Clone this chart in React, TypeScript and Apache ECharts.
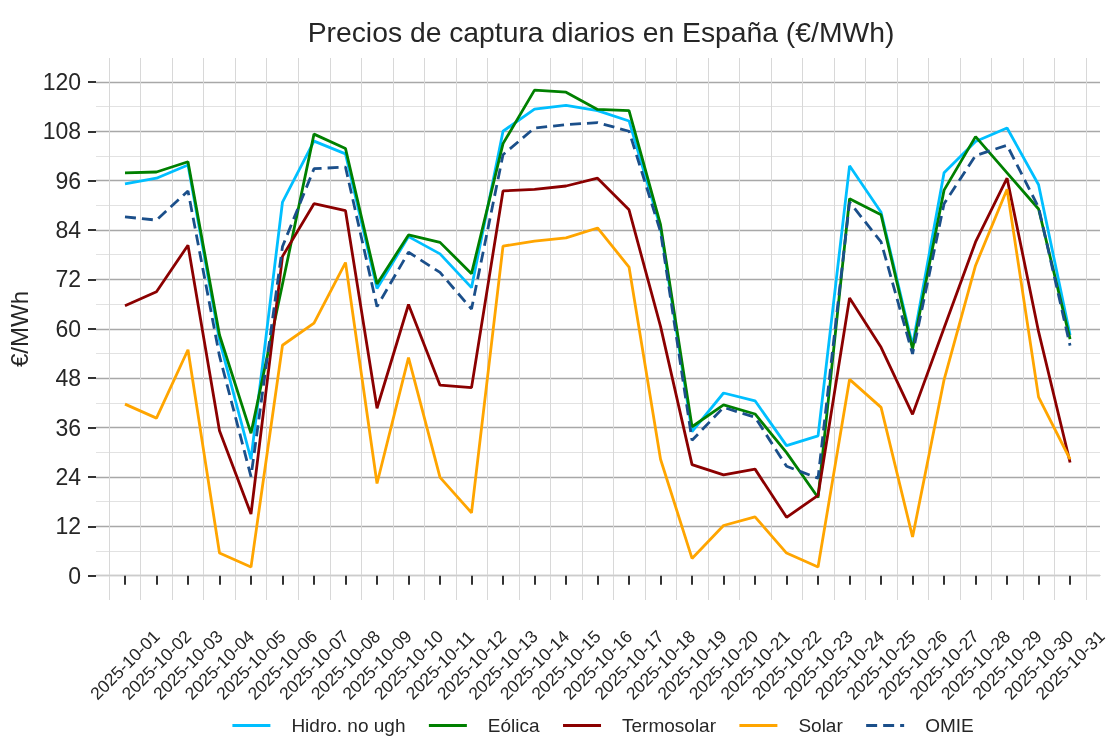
import React, { useEffect, useRef } from "react";
import * as echarts from "echarts";

const dates = [
  "2025-10-01", "2025-10-02", "2025-10-03", "2025-10-04", "2025-10-05", "2025-10-06",
  "2025-10-07", "2025-10-08", "2025-10-09", "2025-10-10", "2025-10-11", "2025-10-12",
  "2025-10-13", "2025-10-14", "2025-10-15", "2025-10-16", "2025-10-17", "2025-10-18",
  "2025-10-19", "2025-10-20", "2025-10-21", "2025-10-22", "2025-10-23", "2025-10-24",
  "2025-10-25", "2025-10-26", "2025-10-27", "2025-10-28", "2025-10-29", "2025-10-30",
  "2025-10-31",
];

const hidro = [95.2, 96.6, 99.8, 57.2, 28.3, 90.8, 105.6, 102.5, 69.8, 82.4, 78.2, 70.0, 108.0, 113.4, 114.3, 113.0, 110.5, 84.5, 35.0, 44.4, 42.5, 31.6, 34.0, 99.6, 88.3, 56.0, 97.9, 105.5, 108.8, 95.0, 58.5];
const eolica = [97.9, 98.1, 100.6, 58.5, 34.6, 70.9, 107.3, 103.8, 70.9, 82.8, 81.0, 73.4, 105.0, 118.0, 117.5, 113.3, 113.0, 85.3, 36.2, 41.5, 39.3, 29.9, 19.0, 91.6, 87.7, 55.1, 93.7, 106.7, 97.9, 89.1, 57.5];
const termosolar = [65.6, 69.0, 80.3, 35.2, 15.0, 77.6, 90.4, 88.7, 40.7, 65.9, 46.3, 45.7, 93.5, 93.9, 94.7, 96.6, 88.9, 60.6, 27.0, 24.5, 25.9, 14.2, 19.5, 67.5, 55.5, 39.2, 60.2, 81.1, 96.6, 59.3, 27.5];
const solar = [41.7, 38.3, 54.9, 5.5, 2.1, 56.0, 61.4, 76.1, 22.4, 53.0, 23.9, 15.3, 80.1, 81.3, 82.1, 84.5, 75.0, 28.3, 4.2, 12.2, 14.3, 5.5, 2.1, 47.7, 40.9, 9.4, 47.6, 75.4, 93.9, 43.4, 28.3];
const omie = [87.2, 86.4, 93.5, 53.4, 24.1, 80.0, 98.9, 99.3, 65.4, 78.6, 73.7, 64.8, 102.3, 108.8, 109.6, 110.1, 108.0, 83.6, 32.9, 40.9, 38.5, 26.6, 23.7, 90.8, 81.1, 53.9, 90.4, 102.1, 104.6, 89.5, 55.9];

const yTicks = [0, 12, 24, 36, 48, 60, 72, 84, 96, 108, 120];
const yMinorTicks = [6, 18, 30, 42, 54, 66, 78, 90, 102, 114];

const seriesNames = ["Hidro. no ugh", "Eólica", "Termosolar", "Solar", "OMIE"];
const seriesValues = [hidro, eolica, termosolar, solar, omie];
const seriesColors = ["#00bfff", "#008000", "#8b0000", "#ffa500", "#1b4f8a"];

const FONT = "'Liberation Sans', Arial, sans-serif";
const TEXT = "#262626";

export default function App() {
  const ref = useRef<HTMLDivElement>(null);
  useEffect(() => {
    document.body.style.margin = "0";
    const chart = echarts.init(ref.current!, null, { renderer: "svg" });
    const dayIdx = dates.map((_, i) => i + 1);
    const mids = [0.5, ...dates.map((_, i) => i + 1.5)];
    const xMin = 0.08;
    const xMax = 31.95;
    const yMin = -5.9;
    const yMax = 125.8;

    const option: any = {
      animation: false,
      textStyle: { fontFamily: FONT },
      title: {
        text: "Precios de captura diarios en España (€/MWh)",
        left: 596,
        textAlign: "center",
        top: 13,
        textStyle: { fontSize: 28.3, fontWeight: "normal", color: TEXT, fontFamily: FONT },
      },
      grid: { left: 96, right: 15, top: 58, bottom: 152, outerBoundsMode: "none" },
      legend: {
        left: 226,
        top: 711,
        itemWidth: 38,
        itemHeight: 14,
        itemGap: 22,
        data: seriesNames,
        itemStyle: { opacity: 0 },
        lineStyle: { width: 2.8 },
        formatter: (name: string) => `{t|${name}}`,
        textStyle: {
          fontSize: 19,
          color: TEXT,
          fontFamily: FONT,
          rich: { t: { padding: [0, 0, 0, 16], fontSize: 19, color: TEXT, fontFamily: FONT } },
        },
      },
      xAxis: [
        {
          type: "value",
          min: xMin,
          max: xMax,
          position: "bottom",
          axisLine: { show: true, lineStyle: { color: "#cccccc", width: 1 } },
          axisTick: { show: true, customValues: dayIdx, length: 9, lineStyle: { color: "#333333", width: 2 } },
          axisLabel: {
            customValues: dayIdx,
            formatter: (v: number) => dates[Math.round(v) - 1] ?? "",
            rotate: 45,
            align: "center",
            verticalAlign: "middle",
            margin: 65,
            fontSize: 17.5,
            color: TEXT,
            fontFamily: FONT,
          },
          splitLine: { show: false },
        },
        {
          type: "value",
          min: xMin,
          max: xMax,
          position: "top",
          axisLine: { show: true, lineStyle: { color: "#cccccc", width: 1 } },
          axisTick: { show: false, customValues: mids },
          axisLabel: { show: false, customValues: mids },
          splitLine: { show: true, lineStyle: { color: "#d8d8d8", width: 1 } },
        },
      ],
      yAxis: [
        {
          type: "value",
          min: yMin,
          max: yMax,
          position: "left",
          name: "€/MWh",
          nameLocation: "middle",
          nameGap: 58,
          nameRotate: 90,
          nameTextStyle: { fontSize: 24, color: TEXT, fontFamily: FONT },
          axisLine: { show: false },
          axisTick: { show: true, customValues: yTicks, length: 8, lineStyle: { color: "#333333", width: 2 } },
          axisLabel: { customValues: yTicks, margin: 15, fontSize: 23, color: TEXT, fontFamily: FONT },
          splitLine: { show: true, lineStyle: { color: "#a8a8a8", width: 1.3 } },
        },
        {
          type: "value",
          min: yMin,
          max: yMax,
          position: "left",
          axisLine: { show: false },
          axisTick: { show: false, customValues: yMinorTicks },
          axisLabel: { show: false, customValues: yMinorTicks },
          splitLine: { show: true, lineStyle: { color: "#e2e2e2", width: 1 } },
        },
      ],
      series: seriesNames.map((name, s) => ({
        name,
        type: "line",
        xAxisIndex: 0,
        yAxisIndex: 0,
        symbol: "none",
        showSymbol: false,
        data: seriesValues[s].map((v, i) => [dayIdx[i], v]),
        color: seriesColors[s],
        lineStyle: {
          color: seriesColors[s],
          width: 2.8,
          type: name === "OMIE" ? [11, 6] : "solid",
        },
        z: 3,
      })),
    };
    chart.setOption(option);
    return () => chart.dispose();
  }, []);
  return <div ref={ref} style={{ width: 1115, height: 752, position: "fixed", left: 0, top: 0 }} />;
}
